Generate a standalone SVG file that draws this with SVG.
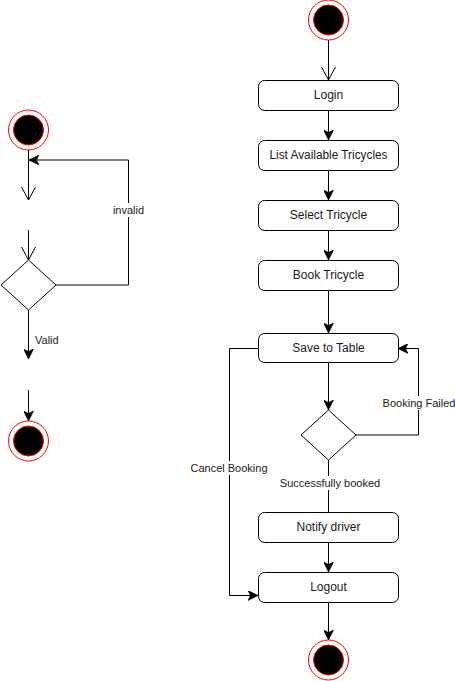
<svg xmlns="http://www.w3.org/2000/svg" width="455" height="681" viewBox="0 0 455 681">
  <style>
    .box { fill: #ffffff; stroke: #000000; stroke-width: 1; }
    .dia { fill: #ffffff; stroke: #000000; stroke-width: 1; }
    .outer { fill: #ffffff; stroke: #ff0000; stroke-width: 1; }
    .inner { fill: #000000; stroke: #ff0000; stroke-width: 1; }
    .edge { fill: none; stroke: #000000; stroke-width: 1; }
    .t { font-family: "Liberation Sans", Arial, Helvetica, sans-serif; font-size: 11px; fill: #1a1a1a; text-anchor: middle; }
    .bt { font-family: "Liberation Sans", Arial, Helvetica, sans-serif; font-size: 12px; fill: #1a1a1a; text-anchor: middle; }
    .lbg { fill: #ffffff; stroke: none; }
  </style>
  <defs>
    <marker id="fa" markerUnits="userSpaceOnUse" markerWidth="10" markerHeight="10" viewBox="0 0 8 8" refX="8" refY="4" orient="auto">
      <path d="M0,0 L8,4 L0,8 L2,4 Z" fill="#000000" stroke="#000000" stroke-width="0.5"/>
    </marker>
    <marker id="oa" markerUnits="userSpaceOnUse" markerWidth="16" markerHeight="16" viewBox="-1 -1 15 16" refX="13" refY="7" orient="auto">
      <path d="M0,0 L13,7 L0,14" fill="none" stroke="#000000" stroke-width="1"/>
    </marker>
  </defs>

  <g id="connectors">
    <!-- left -->
    <line class="edge" x1="28.5" y1="150" x2="28.5" y2="200" marker-end="url(#oa)"/>
    <line class="edge" x1="28.5" y1="230" x2="28.5" y2="260" marker-end="url(#oa)"/>
    <polyline class="edge" points="56,285 128.5,285 128.5,160 29,160" marker-end="url(#fa)"/>
    <line class="edge" x1="28.5" y1="310" x2="28.5" y2="359" marker-end="url(#fa)"/>
    <line class="edge" x1="28.5" y1="390" x2="28.5" y2="421" marker-end="url(#fa)"/>
    <!-- right -->
    <line class="edge" x1="328.5" y1="40" x2="328.5" y2="80" marker-end="url(#oa)"/>
    <line class="edge" x1="328.5" y1="110" x2="328.5" y2="140" marker-end="url(#fa)"/>
    <line class="edge" x1="328.5" y1="170" x2="328.5" y2="200" marker-end="url(#fa)"/>
    <line class="edge" x1="328.5" y1="230" x2="328.5" y2="260" marker-end="url(#fa)"/>
    <line class="edge" x1="328.5" y1="290" x2="328.5" y2="333" marker-end="url(#fa)"/>
    <line class="edge" x1="328.5" y1="363" x2="328.5" y2="410" marker-end="url(#fa)"/>
    <polyline class="edge" points="356,435 418.5,435 418.5,348.5 398,348.5" marker-end="url(#fa)"/>
    <polyline class="edge" points="258,348.5 229.5,348.5 229.5,595.5 258,595.5" marker-end="url(#fa)"/>
    <line class="edge" x1="328.5" y1="460" x2="328.5" y2="512"/>
    <line class="edge" x1="328.5" y1="542" x2="328.5" y2="572" marker-end="url(#fa)"/>
    <line class="edge" x1="328.5" y1="602" x2="328.5" y2="640" marker-end="url(#fa)"/>
    <!-- labels -->
    <rect class="lbg" x="111" y="203" width="35" height="14"/>
    <text class="t" x="128.5" y="213.5">invalid</text>
    <text class="t" x="35" y="344" style="text-anchor:start">Valid</text>
    <rect class="lbg" x="381" y="396" width="76" height="14"/>
    <text class="t" x="419" y="407">Booking Failed</text>
    <rect class="lbg" x="190" y="461" width="79" height="14"/>
    <text class="t" x="229" y="472">Cancel Booking</text>
    <rect class="lbg" x="279" y="476" width="102" height="14"/>
    <text class="t" x="330" y="487">Successfully booked</text>
  </g>

  <g id="start-left">
    <circle class="outer" cx="28.5" cy="130" r="20"/>
    <circle class="inner" cx="28.5" cy="130" r="15"/>
  </g>
  <g id="decision-left">
    <polygon class="dia" points="28.5,260 56,285 28.5,310 1,285"/>
  </g>
  <g id="end-left">
    <circle class="outer" cx="28.5" cy="441" r="20"/>
    <circle class="inner" cx="28.5" cy="441" r="15"/>
  </g>

  <g id="start">
    <circle class="outer" cx="328.5" cy="20" r="20"/>
    <circle class="inner" cx="328.5" cy="20" r="15"/>
  </g>
  <g id="login">
    <rect class="box" x="258.5" y="80.5" width="140" height="30" rx="6"/>
    <text class="bt" x="328.5" y="99">Login</text>
  </g>
  <g id="list">
    <rect class="box" x="258.5" y="140.5" width="140" height="30" rx="6"/>
    <text class="bt" x="328.5" y="159" textLength="118" lengthAdjust="spacingAndGlyphs">List Available Tricycles</text>
  </g>
  <g id="select">
    <rect class="box" x="258.5" y="200.5" width="140" height="30" rx="6"/>
    <text class="bt" x="328.5" y="219">Select Tricycle</text>
  </g>
  <g id="book">
    <rect class="box" x="258.5" y="260.5" width="140" height="30" rx="6"/>
    <text class="bt" x="328.5" y="279">Book Tricycle</text>
  </g>
  <g id="save">
    <rect class="box" x="258.5" y="333.5" width="140" height="29" rx="6"/>
    <text class="bt" x="328.5" y="352">Save to Table</text>
  </g>
  <g id="decision">
    <polygon class="dia" points="328.5,410 356,435 328.5,460 301,435"/>
  </g>
  <g id="notify">
    <rect class="box" x="258.5" y="512.5" width="140" height="30" rx="6"/>
    <text class="bt" x="328.5" y="531">Notify driver</text>
  </g>
  <g id="logout">
    <rect class="box" x="258.5" y="572.5" width="140" height="30" rx="6"/>
    <text class="bt" x="328.5" y="591">Logout</text>
  </g>
  <g id="end">
    <circle class="outer" cx="328.5" cy="660" r="20"/>
    <circle class="inner" cx="328.5" cy="660" r="15"/>
  </g>
</svg>
